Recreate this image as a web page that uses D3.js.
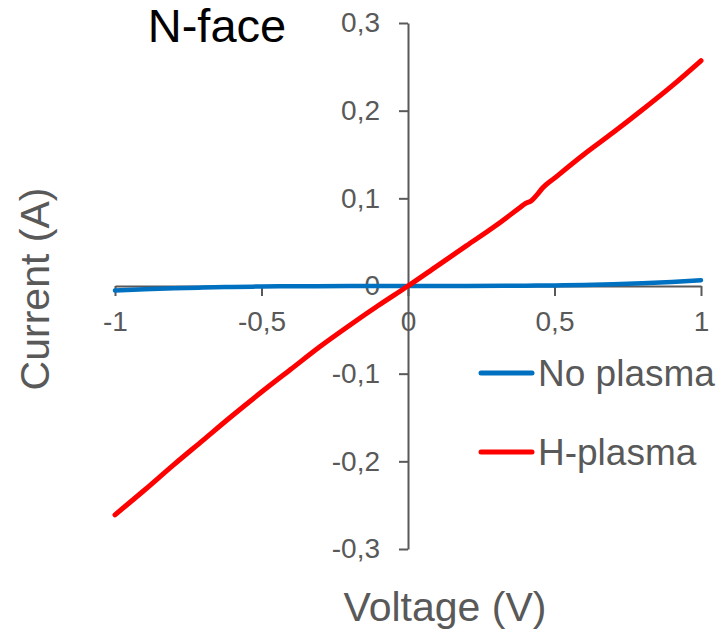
<!DOCTYPE html>
<html>
<head>
<meta charset="utf-8">
<script src="https://cdn.jsdelivr.net/npm/d3@7"></script>
<style>
  body { margin: 0; background: #fff; }
  text { font-family: "Liberation Sans", Arial, sans-serif; }
</style>
</head>
<body>
<svg id="chart" width="725" height="636"></svg>
<script>
// I-V data (voltage in V, current in A)
const voltageTicks = [-1, -0.5, 0, 0.5, 1];
const currentTicks = [-0.3, -0.2, -0.1, 0, 0.1, 0.2, 0.3];

const noPlasmaV = [-1, -0.9, -0.8, -0.7, -0.6, -0.5, -0.4, -0.2, 0, 0.2, 0.4, 0.5, 0.6, 0.7, 0.8, 0.9, 1];
const noPlasmaI = [-0.0050, -0.0038, -0.0027, -0.0018, -0.0011, -0.0006, -0.0003, -0.0001, 0, 0.0001, 0.0004, 0.0007, 0.0012, 0.0020, 0.0030, 0.0045, 0.0066];

const hPlasmaV = [-1, -0.9, -0.8, -0.7, -0.6, -0.5, -0.4, -0.3, -0.2, -0.1, 0, 0.1, 0.2, 0.3, 0.38, 0.40, 0.42, 0.44, 0.46, 0.5, 0.6, 0.7, 0.8, 0.9, 1];
const hPlasmaI = [-0.261, -0.233, -0.204, -0.176, -0.148, -0.121, -0.095, -0.069, -0.045, -0.022, 0, 0.023, 0.046, 0.069, 0.089, 0.094, 0.097, 0.104, 0.112, 0.123, 0.150, 0.175, 0.201, 0.228, 0.257];

const seriesNames = ['No plasma', 'H-plasma'];
const seriesColors = ['#0070C0', '#FF0000'];

const svg = d3.select('#chart');
const grey = '#595959';

const x = d3.scaleLinear().domain([-1, 1]).range([115, 701]);
const y = d3.scaleLinear().domain([-0.3, 0.3]).range([549, 23]);
// comma decimals and a plain hyphen for the minus sign
const fmt = d => String(d).replace('.', ',');

// y axis sits at V = 0
const yAxis = svg.append('g')
  .attr('transform', `translate(${x(0)},0)`)
  .call(d3.axisLeft(y).tickValues(currentTicks).tickSize(9).tickSizeOuter(0).tickPadding(19).tickFormat(fmt));

// x axis sits at I = 0
const xAxis = svg.append('g')
  .attr('transform', `translate(0,${y(0)})`)
  .call(d3.axisBottom(x).tickValues(voltageTicks).tickSize(10).tickSizeOuter(0).tickPadding(15).tickFormat(fmt));

[xAxis, yAxis].forEach(a => {
  a.select('.domain').attr('stroke', grey).attr('stroke-width', 2);
  a.selectAll('.tick line').attr('stroke', grey).attr('stroke-width', 2);
  a.selectAll('.tick text').attr('fill', grey).style('font-size', '28px')
    .style('font-family', '"Liberation Sans", Arial, sans-serif');
});

const line = d3.line()
  .x(d => x(d[0]))
  .y(d => y(d[1]))
  .curve(d3.curveMonotoneX);

const series = [
  d3.zip(noPlasmaV, noPlasmaI),
  d3.zip(hPlasmaV, hPlasmaI)
];

series.forEach((pts, i) => {
  svg.append('path')
    .datum(pts)
    .attr('fill', 'none')
    .attr('stroke', seriesColors[i])
    .attr('stroke-width', i === 0 ? 4.5 : 5)
    .attr('stroke-linecap', 'round')
    .attr('d', line);
});

// legend
const legend = svg.append('g');
seriesNames.forEach((name, i) => {
  const ly = 373 + i * 79;
  legend.append('line')
    .attr('x1', 481).attr('x2', 532)
    .attr('y1', ly).attr('y2', ly)
    .attr('stroke', seriesColors[i])
    .attr('stroke-width', 5)
    .attr('stroke-linecap', 'round');
  legend.append('text')
    .attr('x', 538).attr('y', ly + 13)
    .attr('fill', grey)
    .style('font-size', '37px')
    .text(name);
});

// titles
svg.append('text')
  .attr('x', 217).attr('y', 42)
  .attr('text-anchor', 'middle')
  .attr('fill', '#000')
  .style('font-size', '47px')
  .text('N-face');

svg.append('text')
  .attr('x', 445).attr('y', 621)
  .attr('text-anchor', 'middle')
  .attr('fill', grey)
  .style('font-size', '41px')
  .text('Voltage (V)');

svg.append('text')
  .attr('transform', 'translate(49,289) rotate(-90)')
  .attr('text-anchor', 'middle')
  .attr('fill', grey)
  .style('font-size', '41px')
  .text('Current (A)');
</script>
</body>
</html>
